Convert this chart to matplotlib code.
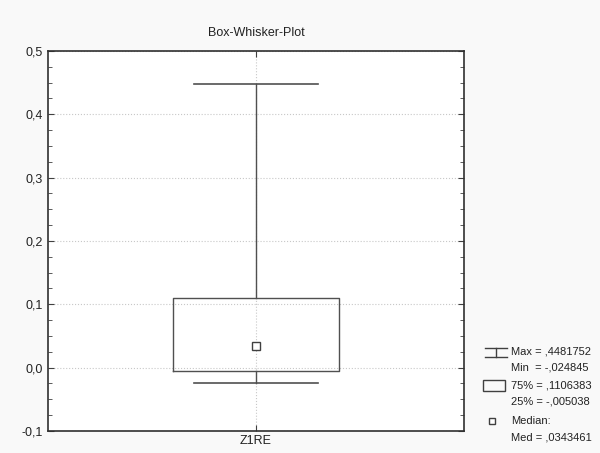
import matplotlib
matplotlib.use('Agg')
import matplotlib.pyplot as plt
from matplotlib.ticker import MultipleLocator, FuncFormatter
from matplotlib.lines import Line2D
from matplotlib.patches import Rectangle

plt.rcParams['font.family'] = ['Liberation Sans', 'DejaVu Sans']

# data
variable = 'Z1RE'
v_max = 0.4481752
v_min = -0.024845
q75 = 0.1106383
q25 = -0.005038
med = 0.0343461

y_ticks = [-0.1, 0.0, 0.1, 0.2, 0.3, 0.4, 0.5]
legend_lines = ['Max = ,4481752', 'Min  = -,024845',
                '75% = ,1106383', '25% = -,005038',
                'Median:', 'Med = ,0343461']

line_col = '#505050'

fig = plt.figure(figsize=(6, 4.53), dpi=100)
fig.patch.set_facecolor('#f9f9f9')
ax = fig.add_axes([0.08, 0.0486, 0.6933, 0.8389])
ax.set_facecolor('white')

stats = [dict(med=med, q1=q25, q3=q75, whislo=v_min, whishi=v_max, label=variable)]
ax.bxp(stats, positions=[1], widths=0.4, capwidths=0.3, showfliers=False,
       boxprops=dict(color=line_col, linewidth=1.0),
       whiskerprops=dict(color=line_col, linewidth=1.0),
       capprops=dict(color=line_col, linewidth=1.2),
       medianprops=dict(linewidth=0))
ax.plot([1], [med], marker='s', markersize=6, markerfacecolor='white',
        markeredgecolor='#404040', markeredgewidth=1.0, linestyle='none', zorder=5)

ax.set_xlim(0.5, 1.5)
ax.set_ylim(-0.1, 0.5)
ax.set_yticks(y_ticks)
ax.yaxis.set_major_formatter(FuncFormatter(lambda v, p: f'{v:.1f}'.replace('.', ',')))
ax.yaxis.set_minor_locator(MultipleLocator(0.025))
ax.set_xticks([1])
ax.set_xticklabels([variable])
ax.tick_params(axis='both', which='both', direction='in', colors='#404040',
               labelcolor='#222222', labelsize=9, top=True, right=True)
ax.tick_params(which='major', length=4)
ax.tick_params(which='minor', length=3)
ax.tick_params(axis='x', pad=3)
ax.grid(True, which='major', linestyle=':', color='#c8c8c8', linewidth=0.8)
ax.set_axisbelow(True)
for s in ax.spines.values():
    s.set_color('#303030')
    s.set_linewidth(1.2)

ax.set_title('Box-Whisker-Plot', fontsize=9, color='#222222', pad=11)

# legend on the right side, drawn in pixel coordinates
W, H = 600.0, 453.0
def fx(x):
    return x / W
def fy(y):
    return 1 - y / H

lc = '#404040'
# whisker symbol
fig.add_artist(Line2D([fx(485), fx(507)], [fy(348), fy(348)], color=lc, lw=1))
fig.add_artist(Line2D([fx(485), fx(507)], [fy(357), fy(357)], color=lc, lw=1))
fig.add_artist(Line2D([fx(496), fx(496)], [fy(348), fy(357)], color=lc, lw=1))
# box symbol
fig.add_artist(Rectangle((fx(483), fy(391)), fx(22), 11 / H, fill=False,
                         edgecolor=lc, lw=1))
# median symbol
fig.add_artist(Line2D([fx(492)], [fy(421)], marker='s', markersize=5,
                      markerfacecolor='white', markeredgecolor=lc, lw=0))

ys = [352, 368, 386, 402, 421, 437]
for txt, y in zip(legend_lines, ys):
    fig.text(fx(511), fy(y), txt, fontsize=8, color='#222222', va='center', ha='left')

fig.savefig('out.png', dpi=100, facecolor=fig.get_facecolor())
